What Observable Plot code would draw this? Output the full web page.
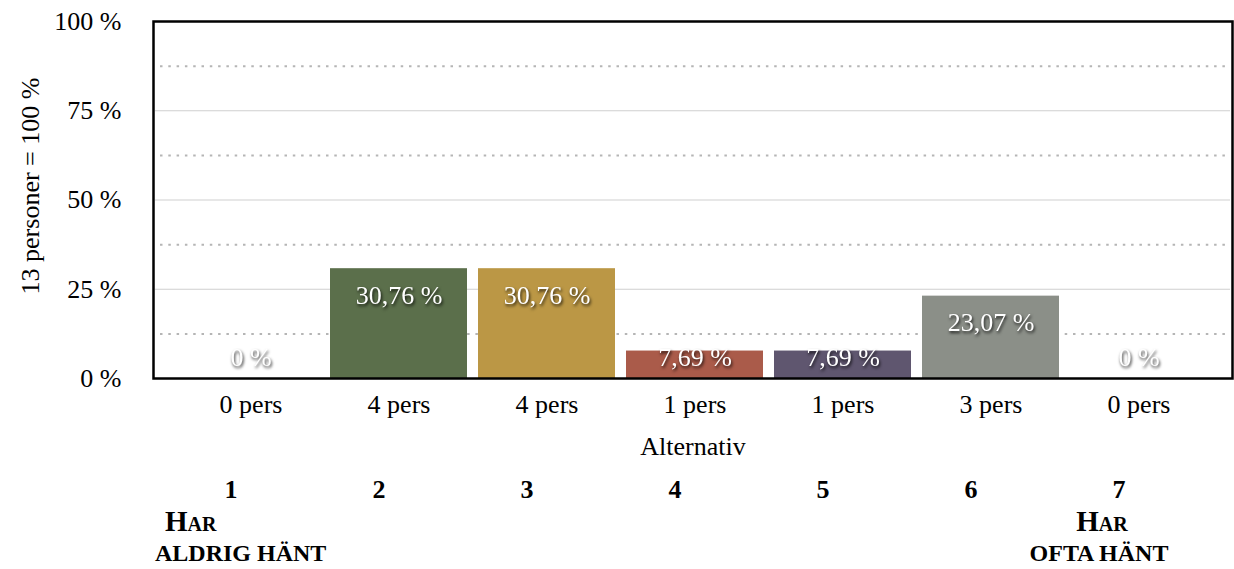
<!DOCTYPE html>
<html>
<head>
<meta charset="utf-8">
<script src="https://cdn.jsdelivr.net/npm/d3@7"></script>
<script src="https://cdn.jsdelivr.net/npm/@observablehq/plot@0.6"></script>
<style>
  html, body { margin: 0; padding: 0; background: #fff; }
  #chart svg { display: block; }
</style>
</head>
<body>
<div id="chart"></div>
<script>
// ---- data ----
const alternatives = [1, 2, 3, 4, 5, 6, 7];
const persons = [0, 4, 4, 1, 1, 3, 0];
const percents = [0, 30.76, 30.76, 7.69, 7.69, 23.07, 0];
const percentLabels = ["0 %", "30,76 %", "30,76 %", "7,69 %", "7,69 %", "23,07 %", "0 %"];
const barColors = ["#ffffff", "#5b6f4b", "#bb9745", "#aa5b4a", "#5f566f", "#8b8f88", "#ffffff"];
const yTicks = [0, 25, 50, 75, 100];
const solidGrid = [25, 50, 75];
const dottedGrid = [12.5, 37.5, 62.5, 87.5];
const yLabel = "13 personer = 100 %";
const xLabel = "Alternativ";
const leftEnd = {alt: 1, top: "Har", bottom: "ALDRIG HÄNT"};
const rightEnd = {alt: 7, top: "Har", bottom: "OFTA HÄNT"};

const rows = alternatives.map((a, i) => ({
  alt: a,
  pct: percents[i],
  pers: persons[i],
  label: percentLabels[i],
  color: barColors[i],
  labelY: Math.max(percents[i], 13.3)
}));

const font = '"Liberation Serif", "Times New Roman", serif';
const shadow = "drop-shadow(1.5px 2px 1.5px rgba(0,0,0,0.8))";

const chart = Plot.plot({
  width: 1234,
  height: 569,
  marginTop: 21,
  marginBottom: 191,
  marginLeft: 153,
  marginRight: 2,
  style: {fontFamily: font, fontSize: "26px", background: "#fff", color: "#000"},
  x: {type: "band", domain: alternatives, paddingInner: 0.077, paddingOuter: 0, insetLeft: 27, insetRight: 24},
  y: {domain: [0, 100]},
  marks: [
    Plot.ruleY(solidGrid, {stroke: "#cfcfcf", strokeWidth: 1.2, insetLeft: 2, insetRight: 2}),
    Plot.ruleY(dottedGrid, {stroke: "#b5b5b5", strokeWidth: 2, strokeDasharray: "2.5,5.8", insetLeft: 7, insetRight: 5}),
    Plot.barY(rows, {x: "alt", y: "pct", fill: "color"}),
    Plot.text(rows, {x: "alt", y: "labelY", text: "label", dy: 27, fill: "#fff", fontSize: 26, imageFilter: shadow}),
    Plot.frame({stroke: "#000", strokeWidth: 2.5}),
    Plot.axisY({ticks: yTicks, tickSize: 0, tickPadding: 32, tickFormat: d => d + " %", label: null, fontSize: 26}),
    Plot.axisX({tickSize: 0, tickPadding: 16, tickFormat: a => persons[a - 1] + " pers", label: null, fontSize: 26}),
    Plot.text([yLabel], {text: d => d, frameAnchor: "left", textAnchor: "middle", rotate: -90, dx: -123, dy: -14, fontSize: 26}),
    Plot.text([xLabel], {text: d => d, frameAnchor: "bottom", dy: 76, fontSize: 26}),
    Plot.text(alternatives, {x: d => d, text: d => String(d), frameAnchor: "bottom", dy: 119, dx: -20, fontWeight: "bold", fontSize: 26}),
    Plot.text([leftEnd], {x: "alt", text: "top", frameAnchor: "bottom", dy: 152, dx: -86, textAnchor: "start", fontWeight: "bold", fontSize: 29, fontVariant: "small-caps"}),
    Plot.text([leftEnd], {x: "alt", text: "bottom", frameAnchor: "bottom", dy: 182, dx: -96, textAnchor: "start", fontWeight: "bold", fontSize: 24}),
    Plot.text([rightEnd], {x: "alt", text: "top", frameAnchor: "bottom", dy: 152, dx: -37, fontWeight: "bold", fontSize: 29, fontVariant: "small-caps"}),
    Plot.text([rightEnd], {x: "alt", text: "bottom", frameAnchor: "bottom", dy: 182, dx: -40, fontWeight: "bold", fontSize: 24})
  ]
});
document.getElementById("chart").append(chart);
</script>
</body>
</html>
